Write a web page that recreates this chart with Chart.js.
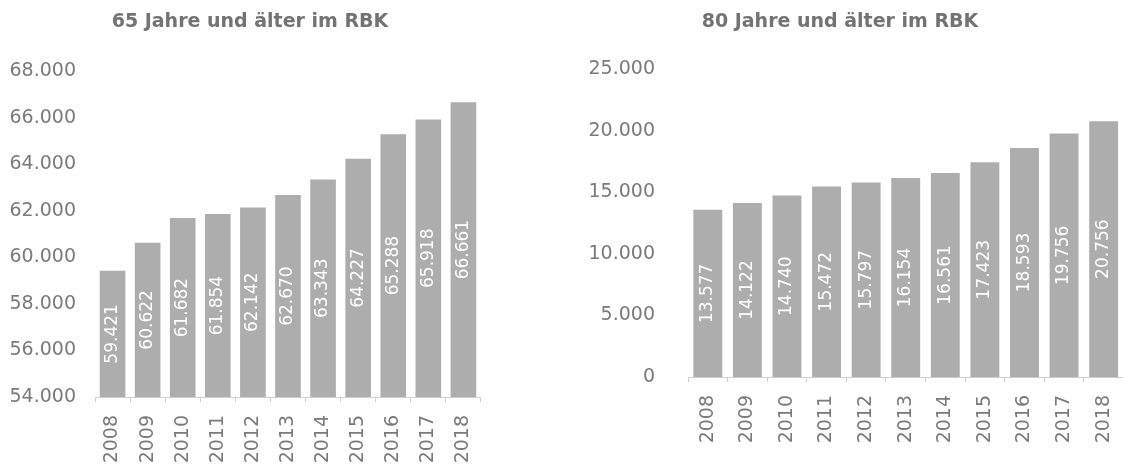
<!DOCTYPE html>
<html>
<head>
<meta charset="utf-8">
<script src="https://cdn.jsdelivr.net/npm/chart.js@4.4.1/dist/chart.umd.min.js"></script>
<style>
  html, body { margin: 0; padding: 0; background: #fff; overflow: hidden; width: 1123px; height: 467px; }
  #c65 { position: absolute; left: 0; top: 0; }
  #c80 { position: absolute; left: 560px; top: 0; }
</style>
</head>
<body>
<canvas id="c65" width="500" height="467"></canvas>
<canvas id="c80" width="580" height="467"></canvas>
<script>
// Einwohner im Rheinisch-Bergischen Kreis nach Altersgruppe
const years = ['2008', '2009', '2010', '2011', '2012', '2013', '2014', '2015', '2016', '2017', '2018'];
const age65plus = [59421, 60622, 61682, 61854, 62142, 62670, 63343, 64227, 65288, 65918, 66661];
const age80plus = [13577, 14122, 14740, 15472, 15797, 16154, 16561, 17423, 18593, 19756, 20756];

const title65 = '65 Jahre und älter im RBK';
const title80 = '80 Jahre und älter im RBK';

// German thousands separator
function fmt(v) {
  return String(Math.round(v)).replace(/\B(?=(\d{3})+(?!\d))/g, '.');
}

const TEXT_GREY = '#7a7a7a';
const BAR_GREY = '#adadad';
const AXIS_GREY = '#cfcfcf';
const tickFont = { family: "'DejaVu Sans', sans-serif", size: 19 };

// Title drawn at a fixed spot above each chart
const fixedTitle = {
  id: 'fixedTitle',
  afterDraw(chart, args, opts) {
    const ctx = chart.ctx;
    ctx.save();
    ctx.font = opts.font;
    ctx.fillStyle = opts.color;
    ctx.textAlign = 'center';
    ctx.textBaseline = 'middle';
    ctx.fillText(opts.text, opts.x, opts.y);
    ctx.restore();
  }
};

// Value written vertically in the middle of the visible part of each bar
const valueLabels = {
  id: 'valueLabels',
  afterDatasetsDraw(chart, args, opts) {
    const ctx = chart.ctx;
    const meta = chart.getDatasetMeta(0);
    const data = chart.data.datasets[0].data;
    const bottom = chart.chartArea.bottom;
    ctx.save();
    ctx.font = opts.font;
    ctx.fillStyle = opts.color;
    ctx.textAlign = 'center';
    ctx.textBaseline = 'middle';
    meta.data.forEach((bar, i) => {
      const base = Math.min(bar.base, bottom);
      ctx.save();
      ctx.translate(bar.x, (bar.y + base) / 2);
      ctx.rotate(-Math.PI / 2);
      ctx.fillText(fmt(data[i]), 0, 0);
      ctx.restore();
    });
    ctx.restore();
  }
};

function makeChart(id, values, cfg) {
  return new Chart(document.getElementById(id), {
    type: 'bar',
    data: {
      labels: years,
      datasets: [{
        data: values,
        backgroundColor: BAR_GREY,
        borderWidth: 0,
        barPercentage: 0.73,
        categoryPercentage: 1.0
      }]
    },
    options: {
      responsive: false,
      animation: false,
      layout: { padding: cfg.padding },
      plugins: {
        legend: { display: false },
        tooltip: { enabled: false },
        title: { display: false },
        fixedTitle: {
          text: cfg.title, x: cfg.titleX, y: 22,
          font: "bold 19px 'DejaVu Sans', sans-serif", color: '#737373'
        },
        valueLabels: { font: "17px 'DejaVu Sans', sans-serif", color: '#ffffff' }
      },
      scales: {
        x: {
          grid: { display: true, drawOnChartArea: false, drawTicks: true, tickLength: 5, color: AXIS_GREY, offset: true },
          border: { display: true, color: AXIS_GREY },
          ticks: { minRotation: 90, maxRotation: 90, autoSkip: false, padding: cfg.xPad, color: TEXT_GREY, font: tickFont },
          afterFit(s) { s.height = cfg.xHeight; }
        },
        y: {
          min: cfg.min, max: cfg.max,
          grid: { display: false, drawTicks: false },
          border: { display: false },
          ticks: { stepSize: cfg.step, padding: cfg.yPad, color: TEXT_GREY, font: tickFont, callback: v => fmt(v) },
          afterFit(s) { s.width = cfg.yWidth; }
        }
      }
    },
    plugins: [fixedTitle, valueLabels]
  });
}

makeChart('c65', age65plus, {
  title: title65, titleX: 250,
  padding: { top: 71, left: 0, right: 17, bottom: 0 },
  min: 54000, max: 68000, step: 2000,
  yWidth: 95, yPad: 19, xHeight: 70, xPad: 13
});

makeChart('c80', age80plus, {
  title: title80, titleX: 280,
  padding: { top: 69, left: 0, right: 12, bottom: 0 },
  min: 0, max: 25000, step: 5000,
  yWidth: 128, yPad: 33, xHeight: 90, xPad: 13
});
</script>
</body>
</html>
